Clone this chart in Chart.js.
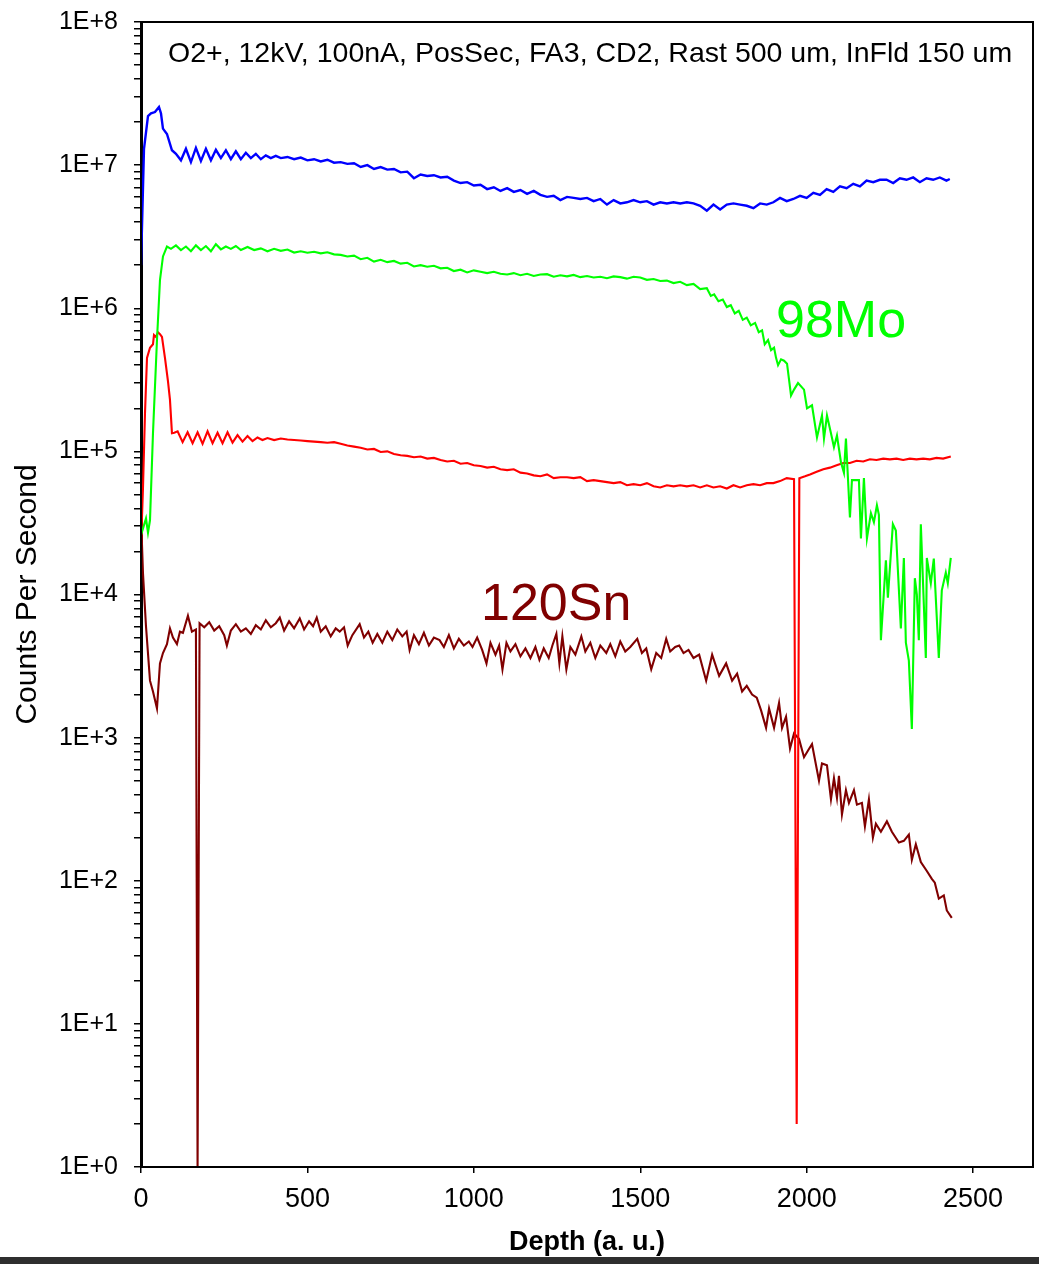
<!DOCTYPE html>
<html>
<head>
<meta charset="utf-8">
<script src="https://cdn.jsdelivr.net/npm/chart.js@4.4.1/dist/chart.umd.min.js"></script>
<style>
  html, body { margin: 0; padding: 0; background: #ffffff; }
  #wrap { width: 1039px; height: 1264px; position: relative; }
</style>
</head>
<body>
<div id="wrap"><canvas id="c" width="1039" height="1264"></canvas></div>
<script>
// ---------- data ----------
const xTickValues = [0, 500, 1000, 1500, 2000, 2500];
const xTickLabels = ['0', '500', '1000', '1500', '2000', '2500'];
const yTickLabels = ['1E+0', '1E+1', '1E+2', '1E+3', '1E+4', '1E+5', '1E+6', '1E+7', '1E+8'];

const blueDepth = [0, 9, 21, 30, 42, 48, 54, 60, 66, 78, 93,
  105, 120, 135, 150, 165, 180, 195, 210, 225, 240, 255, 270, 285, 300, 315, 330, 345, 360, 375, 390, 405, 420,
  440, 460, 480, 500, 520, 540, 560, 580, 600, 620, 640, 660, 680, 700, 720, 740, 760, 780, 800, 820, 840, 860, 880, 900,
  920, 940, 960, 980, 1000, 1020, 1040, 1060, 1080, 1100, 1120, 1140, 1160, 1180, 1200,
  1220, 1240, 1260, 1280, 1300, 1320, 1340, 1360, 1380, 1400, 1420, 1440, 1460, 1480, 1500, 1520, 1540, 1560, 1580, 1600,
  1620, 1640, 1660, 1680, 1700, 1720, 1740, 1760, 1780, 1800, 1820, 1840, 1860, 1880, 1900, 1920, 1940, 1960, 1980, 2000,
  2020, 2040, 2060, 2080, 2100, 2120, 2140, 2160, 2180, 2200, 2220, 2240, 2260, 2280, 2300, 2320, 2340, 2360, 2380, 2400, 2420, 2430];
const blueCps = [2.0e6, 1.3e7, 2.2e7, 2.3e7, 2.35e7, 2.45e7, 2.55e7, 2.3e7, 1.8e7, 1.65e7, 1.27e7,
  1.2e7, 1.08e7, 1.3e7, 1.05e7, 1.32e7, 1.07e7, 1.3e7, 1.08e7, 1.28e7, 1.12e7, 1.27e7, 1.1e7, 1.25e7, 1.1e7, 1.22e7, 1.12e7, 1.2e7, 1.1e7, 1.17e7, 1.12e7, 1.16e7, 1.12e7,
  1.14e7, 1.1e7, 1.13e7, 1.08e7, 1.1e7, 1.06e7, 1.09e7, 1.04e7, 1.05e7, 1.02e7, 1.03e7, 9.7e6, 1.0e7, 9.4e6, 9.7e6, 9.3e6, 9.4e6, 8.9e6, 9.0e6, 8.1e6, 8.6e6, 8.4e6, 8.5e6, 8.2e6,
  8.3e6, 7.8e6, 7.5e6, 7.6e6, 7.2e6, 7.3e6, 6.8e6, 7.0e6, 6.6e6, 6.9e6, 6.5e6, 6.7e6, 6.3e6, 6.6e6, 6.2e6,
  6.0e6, 6.1e6, 5.7e6, 6.0e6, 5.9e6, 5.8e6, 5.9e6, 5.6e6, 5.8e6, 5.3e6, 5.7e6, 5.4e6, 5.5e6, 5.7e6, 5.5e6, 5.6e6, 5.3e6, 5.5e6, 5.4e6, 5.5e6,
  5.4e6, 5.5e6, 5.4e6, 5.2e6, 4.8e6, 5.3e6, 4.9e6, 5.3e6, 5.4e6, 5.3e6, 5.2e6, 5.0e6, 5.4e6, 5.3e6, 5.5e6, 5.9e6, 5.6e6, 5.8e6, 6.1e6, 5.9e6,
  6.4e6, 6.2e6, 6.8e6, 6.5e6, 7.1e6, 6.9e6, 7.4e6, 7.1e6, 7.8e6, 7.6e6, 7.9e6, 7.9e6, 7.5e6, 8.1e6, 7.9e6, 8.2e6, 7.6e6, 8.1e6, 7.9e6, 8.2e6, 7.8e6, 8.0e6];

const greenDepth = [0, 15, 21, 27, 36, 48, 57, 66, 78,
  90, 105, 120, 135, 150, 165, 180, 195, 210, 225, 240, 255, 270, 285, 300,
  320, 340, 360, 380, 400, 420, 440, 460, 480, 500, 520, 540, 560, 580, 600, 620, 640, 660, 680, 700,
  720, 740, 760, 780, 800, 820, 840, 860, 880, 900, 920, 940, 960, 980, 1000, 1020, 1040, 1060, 1080, 1100,
  1120, 1140, 1160, 1180, 1200, 1220, 1240, 1260, 1280, 1300, 1320, 1340, 1360, 1380, 1400, 1420, 1440, 1460, 1480, 1500,
  1520, 1540, 1560, 1580, 1600, 1620, 1640, 1660, 1680, 1700, 1712, 1722, 1735, 1748, 1760, 1772, 1784, 1796, 1808, 1820,
  1832, 1845, 1856, 1866, 1874, 1884, 1893, 1902, 1908, 1914, 1923, 1932, 1941, 1953, 1962, 1974, 1992, 2001, 2016, 2031,
  2046, 2052, 2061, 2073, 2082, 2091, 2103, 2112, 2118, 2130, 2136, 2157, 2163, 2172, 2181, 2193, 2202, 2211, 2217, 2223,
  2238, 2244, 2259, 2268, 2283, 2292, 2298, 2307, 2316, 2325, 2331, 2337, 2343, 2358, 2361, 2373, 2382, 2397, 2406, 2418,
  2424, 2433];
const greenCps = [2.6e4, 3.4e4, 2.7e4, 3.3e4, 1.34e5, 6.0e5, 1.57e6, 2.3e6, 2.7e6,
  2.6e6, 2.75e6, 2.55e6, 2.7e6, 2.5e6, 2.75e6, 2.55e6, 2.72e6, 2.5e6, 2.8e6, 2.58e6, 2.7e6, 2.6e6, 2.72e6, 2.55e6,
  2.68e6, 2.55e6, 2.62e6, 2.5e6, 2.6e6, 2.52e6, 2.57e6, 2.45e6, 2.5e6, 2.44e6, 2.48e6, 2.42e6, 2.46e6, 2.38e6, 2.36e6, 2.3e6, 2.33e6, 2.2e6, 2.25e6, 2.12e6,
  2.18e6, 2.1e6, 2.14e6, 2.05e6, 2.08e6, 1.96e6, 2.0e6, 1.95e6, 1.98e6, 1.9e6, 1.92e6, 1.82e6, 1.86e6, 1.78e6, 1.84e6, 1.8e6, 1.76e6, 1.8e6, 1.74e6, 1.72e6,
  1.76e6, 1.7e6, 1.74e6, 1.68e6, 1.72e6, 1.73e6, 1.66e6, 1.7e6, 1.67e6, 1.71e6, 1.65e6, 1.68e6, 1.64e6, 1.66e6, 1.62e6, 1.67e6, 1.65e6, 1.61e6, 1.66e6, 1.64e6,
  1.58e6, 1.6e6, 1.55e6, 1.56e6, 1.5e6, 1.53e6, 1.45e6, 1.48e6, 1.36e6, 1.38e6, 1.22e6, 1.25e6, 1.12e6, 1.15e6, 1.02e6, 1.05e6, 9.2e5, 9.6e5, 8.3e5, 8.6e5,
  7.6e5, 7.9e5, 6.8e5, 7.0e5, 5.6e5, 6.0e5, 5.1e5, 5.3e5, 4.5e5, 4.0e5, 4.4e5, 4.3e5, 4.1e5, 2.46e5, 2.7e5, 3.0e5, 2.7e5, 2.0e5, 2.1e5, 1.25e5,
  1.78e5, 1.23e5, 1.78e5, 1.34e5, 1.07e5, 1.29e5, 8.4e4, 7.1e4, 1.23e5, 3.45e4, 6.3e4, 6.3e4, 2.46e4, 6.5e4, 2.46e4, 3.7e4, 3.2e4, 4.2e4, 3.6e4, 4.8e3,
  1.73e4, 9.5e3, 3.1e4, 2.8e4, 5.8e3, 1.8e4, 4.6e3, 3.45e3, 1.15e3, 1.3e4, 1.0e4, 4.8e3, 3.1e4, 3.6e3, 1.8e4, 1.2e4, 1.78e4, 3.6e3, 1.07e4, 1.42e4,
  1.2e4, 1.8e4];

const redDepth = [0, 6, 12, 18, 27, 36, 39, 45, 51, 57, 63, 72, 81, 87, 93,
  100, 110, 125, 140, 155, 170, 185, 200, 215, 230, 245, 260, 275, 290, 305, 320, 335, 350, 365, 380, 400, 420,
  440, 460, 480, 500, 520, 540, 560, 580, 600, 620, 640, 660, 680, 700, 720, 740, 760, 780, 800, 820, 840, 860, 880, 900,
  920, 940, 960, 980, 1000, 1020, 1040, 1060, 1080, 1100, 1120, 1140, 1160, 1180, 1200, 1220, 1240, 1260, 1280, 1300,
  1320, 1340, 1360, 1380, 1400, 1420, 1440, 1460, 1480, 1500, 1520, 1540, 1560, 1580, 1600, 1620, 1640, 1660, 1680, 1700,
  1720, 1740, 1760, 1780, 1800, 1820, 1840, 1860, 1880, 1900, 1920, 1940, 1962, 1970, 1978, 1995, 2010, 2030, 2050, 2070,
  2090, 2110, 2130, 2150, 2170, 2190, 2210, 2230, 2250, 2270, 2290, 2310, 2330, 2350, 2370, 2390, 2410, 2433];
const redCps = [2.2e4, 5.6e4, 1.85e5, 4.5e5, 5.3e5, 5.6e5, 6.5e5, 6.3e5, 6.8e5, 6.6e5, 6.3e5, 4.5e5, 3.1e5, 2.3e5, 1.34e5,
  1.35e5, 1.38e5, 1.16e5, 1.36e5, 1.14e5, 1.36e5, 1.13e5, 1.38e5, 1.14e5, 1.35e5, 1.14e5, 1.36e5, 1.15e5, 1.3e5, 1.17e5, 1.28e5, 1.18e5, 1.25e5, 1.2e5, 1.24e5, 1.2e5, 1.23e5,
  1.21e5, 1.2e5, 1.19e5, 1.18e5, 1.17e5, 1.16e5, 1.15e5, 1.16e5, 1.13e5, 1.1e5, 1.08e5, 1.06e5, 1.03e5, 1.04e5, 9.9e4, 1.0e5, 9.6e4, 9.4e4, 9.3e4, 9.1e4, 9.2e4, 8.9e4, 9.0e4, 8.7e4,
  8.5e4, 8.6e4, 8.2e4, 8.3e4, 8.0e4, 7.9e4, 7.7e4, 7.8e4, 7.5e4, 7.4e4, 7.5e4, 7.1e4, 7.0e4, 6.8e4, 6.7e4, 6.9e4, 6.5e4, 6.6e4, 6.6e4, 6.5e4,
  6.6e4, 6.2e4, 6.3e4, 6.2e4, 6.1e4, 6.0e4, 6.1e4, 5.8e4, 5.9e4, 5.8e4, 6.0e4, 5.7e4, 5.6e4, 5.8e4, 5.7e4, 5.8e4, 5.7e4, 5.8e4, 5.6e4, 5.8e4,
  5.6e4, 5.7e4, 5.5e4, 5.8e4, 5.6e4, 5.8e4, 5.9e4, 5.8e4, 6.0e4, 6.0e4, 6.2e4, 6.5e4, 6.4e4, 2, 6.5e4, 6.7e4, 6.9e4, 7.2e4, 7.5e4, 7.7e4,
  8.0e4, 8.3e4, 8.3e4, 8.6e4, 8.5e4, 8.8e4, 8.7e4, 8.9e4, 8.8e4, 8.9e4, 8.7e4, 8.9e4, 8.8e4, 8.9e4, 8.8e4, 9.0e4, 8.9e4, 9.2e4];

const darkRedDepth = [0, 6, 15, 27, 36, 48, 57, 66, 78, 87, 96, 108, 117, 126, 141, 153, 165, 170, 176,
  190, 205, 220, 235, 250, 258, 270, 285, 300, 315, 330, 345, 360, 375, 390, 405, 417, 430, 445, 460,
  477, 490, 505, 517, 528, 540, 555, 570, 585, 597, 610, 621, 635, 657, 670, 683, 696, 710, 725, 740,
  755, 770, 785, 798, 807, 820, 835, 850, 865, 880, 897, 910, 925, 940, 955, 970, 985, 996, 1010, 1025,
  1038, 1050, 1065, 1076, 1086, 1098, 1110, 1125, 1140, 1155, 1170, 1185, 1197, 1210, 1225, 1236, 1248, 1257, 1266, 1278,
  1290, 1305, 1323, 1335, 1350, 1365, 1380, 1398, 1410, 1425, 1440, 1455, 1470, 1491, 1505, 1518, 1533, 1548, 1563, 1578,
  1590, 1605, 1617, 1630, 1645, 1660, 1677, 1698, 1716, 1737, 1758, 1776, 1791, 1806, 1820, 1836, 1850, 1863, 1878, 1887,
  1902, 1917, 1926, 1938, 1950, 1962, 1977, 1992, 2005, 2016, 2037, 2046, 2061, 2073, 2082, 2091, 2097, 2106, 2118, 2127,
  2142, 2151, 2166, 2175, 2187, 2199, 2208, 2223, 2241, 2256, 2277, 2292, 2307, 2316, 2328, 2343, 2361, 2376, 2385, 2397,
  2412, 2421, 2436];
const darkRedCps = [3.5e4, 1.4e4, 6.0e3, 2.5e3, 2.1e3, 1.6e3, 3.3e3, 3.9e3, 4.5e3, 5.8e3, 5.0e3, 4.5e3, 5.5e3, 5.4e3, 7.1e3, 5.5e3, 5.7e3, 1, 6.3e3,
  5.9e3, 6.4e3, 5.6e3, 6.0e3, 5.2e3, 4.4e3, 5.6e3, 6.2e3, 5.5e3, 5.8e3, 5.3e3, 6.1e3, 5.7e3, 6.6e3, 5.9e3, 6.3e3, 6.9e3, 5.6e3, 6.5e3, 5.8e3,
  6.8e3, 5.7e3, 6.5e3, 6.0e3, 6.9e3, 5.5e3, 6.0e3, 5.1e3, 5.8e3, 5.5e3, 5.9e3, 4.4e3, 5.2e3, 6.2e3, 5.0e3, 5.5e3, 4.6e3, 5.3e3, 4.6e3, 5.5e3,
  4.8e3, 5.7e3, 5.1e3, 5.5e3, 4.1e3, 5.2e3, 4.5e3, 5.4e3, 4.4e3, 5.0e3, 4.8e3, 4.3e3, 5.2e3, 4.2e3, 4.9e3, 4.4e3, 4.7e3, 4.3e3, 5.0e3, 4.1e3,
  3.3e3, 4.6e3, 3.8e3, 4.4e3, 3.0e3, 4.6e3, 4.0e3, 4.5e3, 3.7e3, 4.2e3, 3.6e3, 4.3e3, 3.5e3, 4.2e3, 3.6e3, 4.4e3, 5.3e3, 3.3e3, 5.1e3, 3.0e3,
  4.3e3, 3.8e3, 5.1e3, 4.0e3, 4.6e3, 3.6e3, 4.4e3, 3.9e3, 4.5e3, 3.7e3, 4.7e3, 4.0e3, 4.3e3, 4.9e3, 3.9e3, 4.2e3, 3.0e3, 3.9e3, 3.6e3, 4.9e3,
  4.0e3, 4.3e3, 4.4e3, 3.9e3, 4.1e3, 3.6e3, 3.8e3, 2.5e3, 3.8e3, 2.7e3, 3.3e3, 2.5e3, 2.8e3, 2.1e3, 2.3e3, 2.0e3, 1.9e3, 1.55e3, 1.17e3, 1.6e3,
  1.17e3, 1.75e3, 1.17e3, 1.4e3, 840, 1070, 980, 730, 820, 900, 500, 660, 640, 370, 520, 380, 540, 290, 430, 350,
  430, 340, 350, 240, 370, 200, 250, 220, 260, 220, 185, 190, 210, 140, 180, 135, 117, 103, 97, 75,
  79, 62, 55];

const seriesLabels = ['Matrix signal (blue)', '98Mo', 'Reference signal (red)', '120Sn'];
const seriesColors = ['#0000ff', '#00ff00', '#ff0000', '#800000'];
const annotationText = 'O2+, 12kV, 100nA, PosSec, FA3, CD2, Rast 500 um, InFld 150 um';

// ---------- chart ----------
const FONT = "'Liberation Sans', Arial, Helvetica, sans-serif";
function pts(xs, ys) { return xs.map((x, i) => ({ x: x, y: ys[i] })); }

const depthSets = [blueDepth, greenDepth, redDepth, darkRedDepth];
const cpsSets = [blueCps, greenCps, redCps, darkRedCps];

const datasets = seriesLabels.map((lab, i) => ({
  label: lab,
  data: pts(depthSets[i], cpsSets[i]),
  borderColor: seriesColors[i],
  backgroundColor: seriesColors[i],
  borderWidth: i === 0 ? 2.4 : 2.1,
  pointRadius: 0,
  tension: 0,
  fill: false
}));

const decor = {
  id: 'decor',
  afterDatasetsDraw(chart) {
    const { ctx, chartArea: a } = chart;
    ctx.save();
    ctx.strokeStyle = '#000';
    ctx.lineWidth = 2;
    ctx.strokeRect(a.left, a.top, a.right - a.left, a.bottom - a.top);
    ctx.textBaseline = 'alphabetic';
    ctx.textAlign = 'left';
    ctx.fillStyle = '#000';
    ctx.font = '28.5px ' + FONT;
    ctx.fillText(annotationText, 168, 62);
    ctx.font = '52px ' + FONT;
    ctx.fillStyle = seriesColors[1];
    ctx.fillText(seriesLabels[1], 776, 337);
    ctx.fillStyle = seriesColors[3];
    ctx.fillText(seriesLabels[3], 481, 620);
    ctx.restore();
  },
  afterDraw(chart) {
    const { ctx } = chart;
    ctx.save();
    ctx.fillStyle = '#2e2e2e';
    ctx.fillRect(0, 1257, 1039, 7);
    ctx.restore();
  }
};

new Chart(document.getElementById('c'), {
  type: 'line',
  data: { datasets: datasets },
  plugins: [decor],
  options: {
    responsive: false,
    animation: false,
    devicePixelRatio: 1,
    layout: { padding: { top: 22, right: 6, left: 0, bottom: 0 } },
    plugins: { legend: { display: false }, tooltip: { enabled: false }, title: { display: false } },
    scales: {
      x: {
        type: 'linear',
        min: 0,
        max: 2680,
        afterBuildTicks: (scale) => { scale.ticks = xTickValues.map(v => ({ value: v })); },
        afterFit: (scale) => { scale.height = 97; scale.paddingLeft = 0; scale.paddingRight = 0; },
        ticks: {
          autoSkip: false, maxRotation: 0, color: '#000', padding: 10, font: { family: FONT, size: 27 },
          callback: (value) => { const k = xTickValues.indexOf(value); return k >= 0 ? xTickLabels[k] : ''; }
        },
        grid: { drawOnChartArea: false, drawTicks: true, tickLength: 6, color: '#000', lineWidth: 1.5 },
        border: { display: true, color: '#000', width: 2 },
        title: { display: true, text: 'Depth (a. u.)', color: '#000', font: { family: FONT, size: 27, weight: 'bold' }, padding: { top: 0, bottom: 5 } }
      },
      y: {
        type: 'logarithmic',
        min: 1,
        max: 1e8,
        afterBuildTicks: (scale) => {
          const t = [];
          for (let e = 0; e < yTickLabels.length - 1; e++) {
            for (let m = 1; m <= 9; m++) t.push({ value: m * Math.pow(10, e), major: m === 1 });
          }
          t.push({ value: Math.pow(10, yTickLabels.length - 1), major: true });
          scale.ticks = t;
        },
        afterFit: (scale) => { scale.width = 141; scale.paddingTop = 0; scale.paddingBottom = 0; },
        ticks: {
          autoSkip: false,
          color: '#000',
          padding: 16,
          font: { family: FONT, size: 25 },
          callback: (value) => {
            const e = Math.log10(value);
            const r = Math.round(e);
            return Math.abs(e - r) < 1e-9 ? yTickLabels[r] : '';
          }
        },
        grid: { drawOnChartArea: false, drawTicks: true, tickLength: 7, color: '#000', lineWidth: 1.5 },
        border: { display: true, color: '#000', width: 3 },
        title: { display: true, text: 'Counts Per Second', color: '#000', font: { family: FONT, size: 30 }, padding: { top: 10, bottom: 0 } }
      }
    }
  }
});
</script>
</body>
</html>
